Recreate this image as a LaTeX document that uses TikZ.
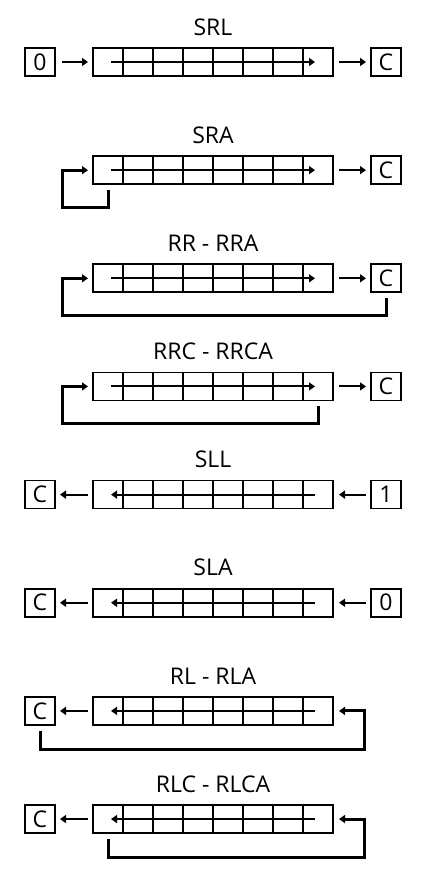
\documentclass[tikz,border=0pt]{standalone}
\usepackage{fontspec}
\setmainfont{Open Sans}
\usetikzlibrary{arrows.meta,calc}
\begin{document}
\begin{tikzpicture}[x=1pt,y=-1pt,
  reg/.style={draw,line width=1.7pt,minimum width=240pt,minimum height=28pt,inner sep=0pt,outer sep=0pt},
  bitbox/.style={draw,line width=1.7pt,minimum width=30pt,minimum height=28pt,inner sep=0pt,outer sep=0pt,font=\fontsize{23}{23}\selectfont},
  ttl/.style={font=\fontsize{23}{23}\selectfont,inner sep=0pt},
  arr/.style={line width=2pt,-{Triangle[length=6pt,width=8pt]}},
  fb/.style={line width=3pt,line join=miter,-{Triangle[length=6pt,width=8pt]}},
  divider/.style={line width=1.7pt},
]
\useasboundingbox (0,0) rectangle (436,881);
\def\P{108.15}
% ---------- registers, titles ----------
\foreach \i/\t in {0/SRL,1/SRA,2/RR - RRA,3/RRC - RRCA,4/SLL,5/SLA,6/RL - RLA,7/RLC - RLCA}{
  \node[reg] (r\i) at (213,{62+\i*\P}) {};
  \node[ttl] (t\i) at (213,{62+\i*\P-35}) {\t};
  \foreach \k in {1,...,7}{
    \draw[divider] ($(r\i.north west)+(30*\k,0)$) -- ($(r\i.south west)+(30*\k,0)$);
  }
}
% inner arrows: right shifts
\foreach \i in {0,1,2,3}{
  \draw[arr] ($(r\i.west)+(18,0)$) -- ($(r\i.east)+(-18,0)$);
}
% inner arrows: left shifts
\foreach \i in {4,5,6,7}{
  \draw[arr] ($(r\i.east)+(-18,0)$) -- ($(r\i.west)+(18,0)$);
}
% ---------- small boxes ----------
\node[bitbox] (in0) at (40,{62+0*\P}) {0};
\node[bitbox] (c0) at (386,{62+0*\P}) {C};
\node[bitbox] (c1) at (386,{62+1*\P}) {C};
\node[bitbox] (c2) at (386,{62+2*\P}) {C};
\node[bitbox] (c3) at (386,{62+3*\P}) {C};
\node[bitbox] (c4) at (40,{62+4*\P}) {C};
\node[bitbox] (in4) at (386,{62+4*\P}) {1};
\node[bitbox] (c5) at (40,{62+5*\P}) {C};
\node[bitbox] (in5) at (386,{62+5*\P}) {0};
\node[bitbox] (c6) at (40,{62+6*\P}) {C};
\node[bitbox] (c7) at (40,{62+7*\P}) {C};
% ---------- connectors ----------
\draw[arr,shorten <=7pt,shorten >=5pt] (in0) -- (r0);
\foreach \i in {0,1,2,3}{
  \draw[arr,shorten <=6pt,shorten >=5pt] (r\i) -- (c\i);
}
\foreach \i in {4,5,6,7}{
  \draw[arr,shorten <=5pt,shorten >=5pt] (r\i) -- (c\i);
}
\draw[arr,shorten <=5pt,shorten >=6pt] (in4) -- (r4);
\draw[arr,shorten <=5pt,shorten >=6pt] (in5) -- (r5);
% ---------- feedback loops ----------
\draw[fb] ($(r1.south west)+(15,6)$) -- ++(0,17.5) -| ($(r1.west)+(-31,0)$) -- ($(r1.west)+(-5,0)$);
\draw[fb] ($(c2.south)+(0,6)$) -- ++(0,17.5) -| ($(r2.west)+(-31,0)$) -- ($(r2.west)+(-5,0)$);
\draw[fb] ($(r3.south east)+(-15,6)$) -- ++(0,17.5) -| ($(r3.west)+(-31,0)$) -- ($(r3.west)+(-5,0)$);
\draw[fb] ($(c6.south)+(0,6)$) -- ++(0,18.5) -| ($(r6.east)+(31,0)$) -- ($(r6.east)+(6,0)$);
\draw[fb] ($(r7.south west)+(15,6)$) -- ++(0,18.5) -| ($(r7.east)+(31,0)$) -- ($(r7.east)+(6,0)$);
\end{tikzpicture}
\end{document}
